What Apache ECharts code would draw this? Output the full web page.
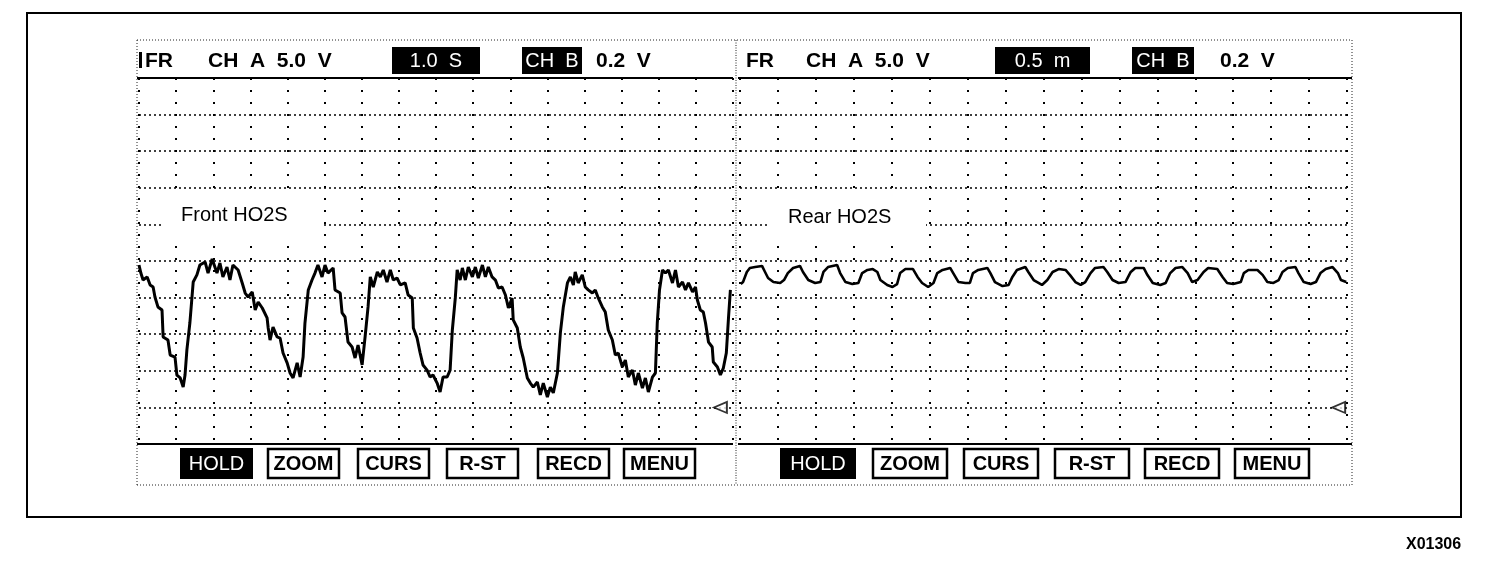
<!DOCTYPE html>
<html><head><meta charset="utf-8">
<script src="https://cdn.jsdelivr.net/npm/echarts@6/dist/echarts.min.js"></script>
<style>html,body{margin:0;padding:0;background:#fff}#c{width:1504px;height:576px}</style>
</head><body><div id="c"></div>
<script>
// ---- data ----
// Front HO2S: time in s (1.0 s/div), voltage in V (0.2 V/div)
const frontT = [0.00,0.05,0.11,0.22,0.30,0.38,0.43,0.51,0.62,0.65,0.78,0.84,0.97,1.02,1.11,1.19,1.24,1.29,1.37,1.46,1.56,1.64,1.78,1.86,1.97,2.10,2.18,2.26,2.37,2.45,2.53,2.67,2.78,2.86,2.94,3.05,3.13,3.21,3.32,3.45,3.48,3.53,3.61,3.72,3.80,3.88,3.99,4.07,4.15,4.26,4.34,4.42,4.47,4.56,4.66,4.74,4.82,4.93,5.01,5.09,5.23,5.28,5.42,5.47,5.55,5.63,5.74,5.82,5.90,6.01,6.09,6.17,6.23,6.31,6.42,6.50,6.58,6.68,6.77,6.85,6.95,7.04,7.17,7.25,7.36,7.39,7.49,7.57,7.65,7.76,7.84,7.92,8.03,8.11,8.19,8.30,8.38,8.44,8.52,8.57,8.65,8.71,8.79,8.87,8.98,9.06,9.14,9.25,9.33,9.41,9.51,9.60,9.68,9.78,9.87,9.95,10.05,10.08,10.19,10.27,10.35,10.46,10.54,10.62,10.73,10.81,10.89,11.00,11.08,11.16,11.27,11.35,11.43,11.54,11.62,11.70,11.75,11.83,11.94,12.02,12.10,12.21,12.29,12.37,12.48,12.56,12.64,12.75,12.83,12.91,13.02,13.10,13.18,13.29,13.37,13.45,13.56,13.64,13.72,13.83,13.91,13.96,14.02,14.10,14.18,14.26,14.37,14.45,14.53,14.64,14.72,14.80,14.91,14.99,15.04,15.12,15.20,15.26,15.34,15.44,15.47,15.58,15.66,15.74,15.82,15.88,15.93];
const frontV = [0.778,0.734,0.696,0.713,0.669,0.658,0.603,0.549,0.532,0.385,0.368,0.286,0.275,0.177,0.161,0.111,0.177,0.314,0.461,0.685,0.724,0.778,0.795,0.734,0.811,0.734,0.789,0.713,0.767,0.696,0.778,0.751,0.680,0.625,0.603,0.631,0.532,0.576,0.543,0.489,0.434,0.368,0.439,0.385,0.379,0.297,0.243,0.188,0.161,0.243,0.166,0.275,0.461,0.642,0.696,0.734,0.778,0.713,0.778,0.734,0.762,0.642,0.625,0.516,0.494,0.357,0.330,0.270,0.341,0.232,0.385,0.549,0.713,0.658,0.740,0.713,0.751,0.685,0.751,0.696,0.707,0.669,0.680,0.614,0.598,0.434,0.379,0.300,0.232,0.204,0.166,0.177,0.133,0.084,0.166,0.166,0.204,0.423,0.598,0.751,0.696,0.762,0.696,0.767,0.713,0.767,0.707,0.778,0.713,0.767,0.713,0.696,0.652,0.658,0.614,0.543,0.598,0.478,0.434,0.330,0.270,0.161,0.133,0.111,0.139,0.068,0.133,0.057,0.111,0.079,0.188,0.407,0.549,0.680,0.713,0.669,0.740,0.680,0.724,0.658,0.642,0.625,0.642,0.598,0.549,0.521,0.423,0.368,0.286,0.297,0.221,0.259,0.166,0.204,0.122,0.188,0.106,0.161,0.084,0.166,0.188,0.461,0.642,0.751,0.734,0.751,0.680,0.751,0.658,0.685,0.642,0.680,0.631,0.658,0.587,0.532,0.521,0.461,0.357,0.330,0.248,0.221,0.177,0.215,0.297,0.494,0.642];
// Rear HO2S: time in min (0.5 m/div), voltage in V (0.2 V/div)
const rearT = [0.01,0.04,0.09,0.13,0.20,0.29,0.33,0.37,0.44,0.53,0.58,0.63,0.70,0.79,0.83,0.90,0.99,1.06,1.10,1.16,1.28,1.32,1.39,1.48,1.56,1.61,1.68,1.75,1.81,1.85,1.94,2.01,2.07,2.11,2.18,2.28,2.34,2.40,2.48,2.55,2.60,2.67,2.77,2.81,2.88,2.97,3.03,3.07,3.14,3.26,3.30,3.36,3.46,3.54,3.59,3.65,3.76,3.80,3.87,3.98,4.05,4.12,4.20,4.29,4.35,4.42,4.49,4.55,4.62,4.68,4.79,4.84,4.91,4.99,5.08,5.15,5.21,5.32,5.37,5.44,5.54,5.61,5.67,5.74,5.83,5.90,5.96,6.03,6.11,6.17,6.29,6.36,6.42,6.50,6.60,6.64,6.70,6.82,6.89,6.95,7.03,7.10,7.15,7.22,7.32,7.36,7.43,7.52,7.59,7.65,7.72,7.81,7.88,7.92,7.99];
const rearV = [0.674,0.685,0.740,0.762,0.767,0.773,0.740,0.707,0.685,0.680,0.696,0.734,0.762,0.773,0.740,0.696,0.680,0.685,0.740,0.767,0.778,0.734,0.685,0.674,0.680,0.734,0.751,0.756,0.740,0.696,0.669,0.658,0.674,0.734,0.756,0.756,0.713,0.680,0.658,0.680,0.734,0.751,0.762,0.734,0.685,0.680,0.680,0.734,0.751,0.762,0.734,0.685,0.663,0.669,0.713,0.751,0.767,0.740,0.696,0.669,0.696,0.740,0.756,0.751,0.723,0.685,0.669,0.685,0.734,0.762,0.767,0.740,0.696,0.680,0.685,0.740,0.762,0.762,0.723,0.680,0.669,0.680,0.734,0.762,0.767,0.734,0.685,0.696,0.740,0.762,0.756,0.713,0.680,0.674,0.685,0.734,0.751,0.751,0.723,0.685,0.680,0.696,0.740,0.762,0.767,0.734,0.685,0.674,0.685,0.734,0.756,0.767,0.734,0.696,0.685];
// CH B zero-level reference markers [time, volts]
const frontZeroMark = [[15.66, 0]];
const rearZeroMark = [[7.89, 0]];
// text
const buttons = ['HOLD','ZOOM','CURS','R-ST','RECD','MENU'];
const leftHeader = {fr:'FR', chA:'CH  A  5.0  V', time:'1.0  S', chB:'CH  B', chBv:'0.2  V'};
const rightHeader = {fr:'FR', chA:'CH  A  5.0  V', time:'0.5  m', chB:'CH  B', chBv:'0.2  V'};
const frontLabel = 'Front HO2S';
const rearLabel = 'Rear HO2S';
const figId = 'X01306';

// ---- layout ----
const FF = '"Liberation Sans", Arial, Helvetica, sans-serif';
const G1 = {left:139, right:733};
const G2 = {left:740, right:1347};
const GT = 78, GB = 444;
const PT = 40, PB = 485, PL = 137, PR = 1352, PD = 736;

function zip(a,b){return a.map((v,i)=>[v,b[i]]);}
function T(x,y,s,font,fill,align){
  return {type:'text', x:x, y:y, z:30, silent:true,
    style:{text:s, font:font, fill:fill||'#000', align:align||'left', textAlign:align||'left', verticalAlign:'middle', textVerticalAlign:'middle'}};
}
function R(x,y,w,h,fill,stroke,lw,dash,z){
  return {type:'rect', z:z||25, silent:true, shape:{x:x,y:y,width:w,height:h},
    style:{fill:fill||'none', stroke:stroke||null, lineWidth:lw||0, lineDash:dash||null}};
}
function Ln(x1,y1,x2,y2,lw,dash,color,z){
  return {type:'line', z:z||25, silent:true, shape:{x1:x1,y1:y1,x2:x2,y2:y2},
    style:{stroke:color||'#000', lineWidth:lw, lineDash:dash||null}};
}

const g = [];
// outer frame
g.push(R(27,13,1434,504,'none','#000',2));
// panel dotted boundaries
g.push(Ln(PL,PT,PR,PT,1,[1,2],'#222'));
g.push(Ln(PL,PB,PR,PB,1,[1,2],'#222'));
g.push(Ln(PL,PT,PL,PB,1,[1,2],'#222'));
g.push(Ln(PR,PT,PR,PB,1,[1,2],'#222'));
g.push(Ln(PD,PT,PD,PB,1,[1,1.5],'#222'));
// solid separators
g.push(Ln(PL,GT,G1.right,GT,2));
g.push(Ln(PL,GB,G1.right,GB,2));
g.push(Ln(G2.left-2,GT,PR,GT,2));
g.push(Ln(G2.left-2,GB,PR,GB,2));

function header(h, xs){
  const f = 'bold 21px '+FF, fr = '20px '+FF;
  if (xs.bar > 0) g.push(R(xs.bar,52,3,16,'#000'));
  g.push(T(xs.fr,61,h.fr,f));
  g.push(T(xs.chA,61,h.chA,f));
  g.push(R(xs.box1[0],47,xs.box1[1]-xs.box1[0],27,'#000'));
  g.push(T((xs.box1[0]+xs.box1[1])/2,61,h.time,fr,'#fff','center'));
  g.push(R(xs.box2[0],47,xs.box2[1]-xs.box2[0],27,'#000'));
  g.push(T((xs.box2[0]+xs.box2[1])/2,61,h.chB,fr,'#fff','center'));
  g.push(T(xs.v,61,h.chBv,f));
}
header(leftHeader,{bar:139,fr:145,chA:208,box1:[392,480],box2:[522,582],v:596});
header(rightHeader,{bar:-10,fr:746,chA:806,box1:[995,1090],box2:[1132,1194],v:1220});

function buttonRow(xs, w){
  buttons.forEach((b,i)=>{
    const x = xs[i];
    if(i===0){
      g.push(R(x,448,w,31,'#000'));
      g.push(T(x+w/2,464,b,'20px '+FF,'#fff','center'));
    } else {
      g.push(R(x+1,449,w-2,29,'#fff','#000',2.5));
      g.push(T(x+w/2,464,b,'bold 20px '+FF,'#000','center'));
    }
  });
}
buttonRow([180,267,357,446,537,623],73);
buttonRow([780,872,963,1054,1144,1234],76);

// labels with white background covering grid
g.push(R(161,193,161,46,'#fff',null,0,null,20));
g.push(T(181,215,frontLabel,'20px '+FF));
g.push(R(768,195,158,46,'#fff',null,0,null,20));
g.push(T(788,217,rearLabel,'20px '+FF));
// figure id
g.push(T(1406,545,figId,'bold 16px '+FF));

const yAxisBase = {type:'value', min:-0.2, max:1.8, interval:0.2,
  axisLine:{show:false}, axisTick:{show:false}, axisLabel:{show:false},
  splitLine:{show:true, lineStyle:{color:'#000', width:1.5, type:[2,3]}}};
const xSplit = {show:true, lineStyle:{color:'#000', width:2, type:[2,10]}};

const option = {
  backgroundColor:'#fff',
  animation:false,
  grid:[
    {left:G1.left, top:GT, width:G1.right-G1.left, height:GB-GT},
    {left:G2.left, top:GT, width:G2.right-G2.left, height:GB-GT}
  ],
  xAxis:[
    {type:'value', gridIndex:0, min:0, max:16, interval:1, axisLine:{show:false}, axisTick:{show:false}, axisLabel:{show:false}, splitLine:xSplit},
    {type:'value', gridIndex:1, min:0, max:8, interval:0.5, axisLine:{show:false}, axisTick:{show:false}, axisLabel:{show:false}, splitLine:xSplit}
  ],
  yAxis:[
    Object.assign({gridIndex:0}, yAxisBase),
    Object.assign({gridIndex:1}, yAxisBase)
  ],
  series:[
    {type:'line', xAxisIndex:0, yAxisIndex:0, data:zip(frontT,frontV), showSymbol:false, symbol:'none',
      lineStyle:{color:'#000', width:3}, z:5},
    {type:'line', xAxisIndex:1, yAxisIndex:1, data:zip(rearT,rearV), showSymbol:false, symbol:'none',
      lineStyle:{color:'#000', width:2.6}, z:5},
    {type:'scatter', xAxisIndex:0, yAxisIndex:0, data:frontZeroMark, symbol:'triangle', symbolSize:[11,13], symbolRotate:90,
      itemStyle:{color:'#fff', borderColor:'#000', borderWidth:1.8}, z:6},
    {type:'scatter', xAxisIndex:1, yAxisIndex:1, data:rearZeroMark, symbol:'triangle', symbolSize:[11,13], symbolRotate:90,
      itemStyle:{color:'#fff', borderColor:'#000', borderWidth:1.8}, z:6}
  ],
  graphic:{elements:g}
};
const chart = echarts.init(document.getElementById('c'));
chart.setOption(option);
</script></body></html>
